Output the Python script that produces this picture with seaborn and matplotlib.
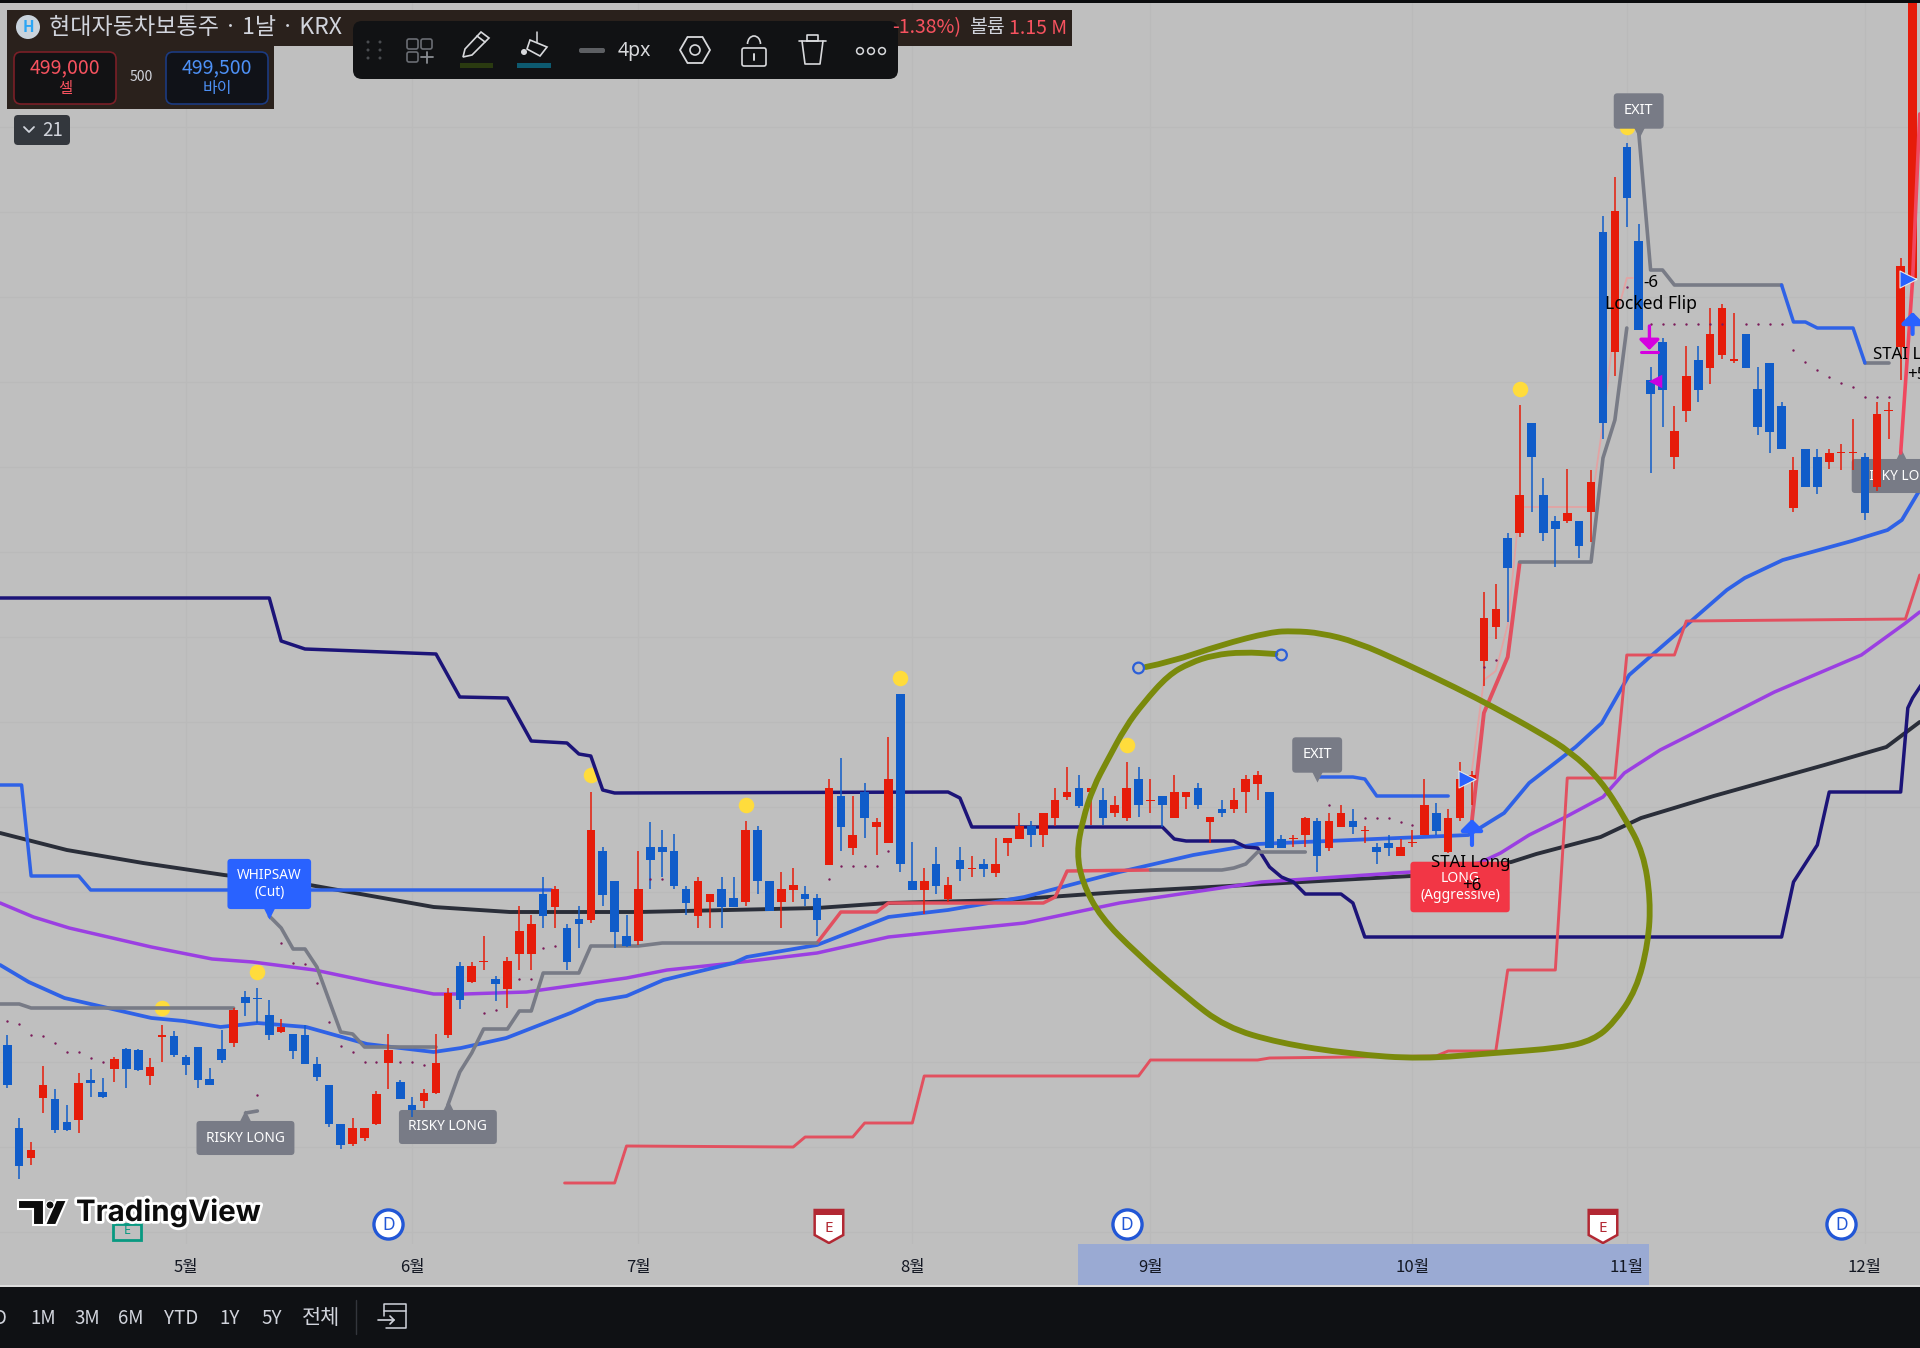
import numpy as np
import pandas as pd
import seaborn as sns
import matplotlib.pyplot as plt
import matplotlib.patheffects as pe
from matplotlib.path import Path
from matplotlib.patches import Rectangle, FancyBboxPatch, Circle, Polygon, RegularPolygon, Arc, PathPatch
from matplotlib.transforms import blended_transform_factory

# daily candles, bar 0 is the first one on screen (price scale is not visible, so chart units)
opens = [303,220,190,250,249,226,228,268,256,279,299,298,272,311,312,291,301,269,299,305,351,350,333,316,314,313,284,263,224,204,
         210,224,285,266,243,247,255,313,382,366,386,369,359,394,394,454,441,420,429,428,497,467,412,407,501,501,497,459,432,446,
         459,450,446,518,467,446,458,454,450,483,552,500,556,521,505,654,467,458,484,449,488,479,484,475,505,509,522,513,530,551,
         560,556,548,535,530,569,547,552,530,551,560,526,539,539,556,564,556,509,509,513,527,500,521,527,517,501,505,492,505,513,
         535,496,530,569,687,721,810,815,925,853,827,827,827,836,1116,996,1201,1107,968,1006,891,937,988,980,993,987,1014,959,985,942,
         840,899,891,886,895,895,891,861,937,1001,1070]
highs = [313,230,206,282,259,243,275,279,270,291,300,299,290,323,317,293,301,280,318,340,357,360,348,329,314,323,291,263,224,230,
         220,257,314,268,251,259,314,360,386,386,412,372,391,442,433,471,462,424,442,556,501,467,433,497,526,518,514,462,471,454,
         471,471,527,522,467,476,480,462,454,569,590,552,565,530,611,654,506,480,501,471,501,492,489,510,510,535,527,535,560,581,
         573,560,560,552,586,581,569,552,573,556,565,531,548,560,573,577,556,513,513,531,530,535,543,539,522,505,513,509,518,569,
         545,539,586,577,756,764,815,943,925,870,832,879,827,878,1132,1171,1205,1124,981,1010,942,1002,1002,1040,1044,1035,1014,981,985,946,
         891,899,899,899,904,929,895,946,946,1090,1350]
lows = [260,169,183,235,215,217,215,251,250,266,260,277,263,286,291,273,260,263,285,301,332,325,308,315,289,284,267,221,199,202,
        207,223,259,249,231,240,254,310,339,365,378,347,340,378,378,420,420,378,400,425,442,400,401,403,459,471,459,433,420,420,
        420,441,442,454,437,420,446,442,412,483,497,493,510,493,505,476,458,434,454,446,467,471,471,471,492,509,501,501,522,548,
        540,523,523,531,527,531,535,521,530,539,539,505,531,535,535,548,500,500,501,501,476,497,521,514,505,484,492,492,501,513,
        513,495,527,543,662,709,726,811,836,807,781,825,790,806,909,972,1121,1018,875,921,879,926,946,964,989,985,980,913,895,899,
        836,861,854,879,878,878,828,857,909,968,1070]
closes = [263,182,198,263,218,218,265,265,251,289,279,278,281,313,293,283,268,263,288,338,345,349,313,321,297,284,271,224,203,220,
          220,254,298,249,238,255,285,355,348,382,387,364,387,417,424,432,459,386,424,518,453,416,402,459,488,496,462,445,467,454,
          441,441,518,467,437,459,463,449,428,560,521,513,530,526,569,484,458,467,462,463,479,480,479,484,510,522,513,535,548,556,
          542,560,530,543,560,543,548,543,556,556,543,531,535,548,569,573,500,500,510,530,492,527,535,521,518,496,500,501,506,543,
          517,530,569,573,730,739,780,853,891,815,819,835,802,866,925,1137,1150,1018,954,958,917,972,958,1014,1040,989,980,921,916,899,
          878,861,861,895,896,896,835,934,938,1082,1350]

# indicator lines, each as bar positions and chart-unit levels
stop_upper_bars = [-1,22,23,25,36,38,42,44,47,48,49,50,51,79,80,81,97,98,99,103,104,105,106,107,108,109,112,113,114,149,150,152,153,159,159.6,160,161]
stop_upper_vals = [750,750,707,699,694,651,650,607,605,594,592,558,555,556,550,521,521,509,507,507,501,500,481,471,466,454,454,445,411,411,466,503,556,556,640,650,668]
slow_ma_bars = [-0.6,5,11.4,18.2,25.4,35.8,42.2,53.1,68,74,83.9,93.4,117.9,126.3,128.4,133.8,137.2,143.3,152.6,157.8,160.6]
slow_ma_vals = [515,498,485,473,463,441,436,436,440,445,448,456,472,486,494,511,530,552,583,601,626]
mid_ma_bars = [-0.6,2.2,5.2,12.1,17.2,20.6,25.8,31,35.8,38.4,43.6,47.8,52,55.4,61,68,74,85.4,93.4,105.3,117.9,123.6,125.4,127.8,130.7,134,135.8,138.8,141.3,148.4,155.7,159.3,160.6]
mid_ma_vals = [445,431,420,401,389,386,378,365,354,354,356,363,370,378,385,395,411,425,445,466,476,485,495,513,530,551,575,598,613,656,693,724,736]
fast_ma_bars = [-0.6,1.8,4.8,12.1,14.8,17.9,21,25.1,30.2,35.8,38.1,41.9,47.3,49.5,52,55.1,61,62.1,68,74,79,85.4,93.4,99.6,105,122.7,123.8,125.7,127.8,131.7,133.9,136.2,138.8,144.4,145.9,149.1,154.9,157.9,159.1,160.6]
fast_ma_vals = [383,366,350,330,327,321,325,321,304,296,300,310,335,347,352,368,385,391,403,431,438,451,476,493,504,513,521,535,565,601,625,673,700,758,770,788,807,818,828,858]

stop_low_bars = [46.8,51,52,66,67,71,72,76,77,95,96,105,106,120,121,125,126,130,131,135,136,140,141,159.4,160.6]
stop_low_vals = [165,165,202,201,211,211,225,225,272,272,288,288,290,292,297,297,378,378,570,570,693,693,727,729,773]
stop_mid_bars = [68,70,73,74,87,88,89,96]
stop_mid_vals = [405,436,436,445,445,451,477,478]
stop_fast_bars = [123,124,126,126.4,127]
stop_fast_vals = [528,635,691,728,785]
stop_last_bars = [159,160,160.6]
stop_last_vals = [895,1068,1234]
pale_bars = [123,124,125,126,127,133,134,135,136,136.5]
pale_vals = [578,668,677,723,841,841,925,1026,1070,1070]

grey_segments = [
    ([-0.6,1,2,19], [344,344,340,340]),
    ([22,23,24,25,26,28,29,30,36], [432,420,399,399,381,316,314,301,301]),
    ([20,21], [235,237]),
    ([37,38,39,40,42,43,44,45,48,49,53,55,68], [243,276,295,319,319,337,337,375,375,402,402,405,405]),
    ([96,102,103,104,105,109], [478,478,480,484,496,496]),
    ([127,133,134,135,136], [786,786,890,928,1020]),
    ([137,138,139,140,149], [1216,1078,1078,1063,1063]),
    ([156,158], [985,985]),
]
blue_segments = [
    ([-0.6,1.2,2,6,7,45.7], [563,563,472,472,458,458]),
    ([110,113,114,115,121], [571,571,569,552,552]),
    ([149,150,151,152,155,156], [1063,1026,1026,1020,1020,985]),
]

# hand drawn circle on the chart
circle_bars = [95.6,97.7,101.9,106.1,108,110.3,113.3,117.3,121.7,124.8,128.6,131.3,133.8,135.8,137.4,138,137.8,136.8,134.9,133.2,
               130.5,124.8,118.7,112.8,106.8,102.3,99,94.8,91.8,90.3,89.8,90.3,91.2,92.4,93.9,95.4,97.5,99.3,101.3,103.8,106.5]
circle_vals = [681,686,703,716,717,715,706,685,660,641,616,596,568,531,495,448,405,358,325,308,
               300,295,289,294,305,321,351,395,431,465,495,528,561,588,621,645,673,685,693,696,694]

dot_bars = [0,1,2,3,4,5,6,7,8,21,23,24,25,26,27,28,29,30,31,33,34,35,40,41,43,44,45,46,54,55,69,70,71,72,73,74,111,114,115,116,117,118,124,125,136,138,139,140,141,142,143,144,146,147,148,149,150,151,152,153,154,155,156,157,158]
dot_vals = [327,324,313,312,305,296,296,290,286,253,405,385,384,365,326,302,296,286,286,286,286,283,335,338,369,369,400,402,469,469,469,482,482,482,482,497,543,530,530,530,526,523,681,688,1061,1024,1024,1024,1024,1024,1024,1024,1024,1024,1024,1024,998,986,978,971,965,961,951,951,951]
sun_bars = [13,21,49,62,75,94,127,136]
sun_vals = [340,376,573,543,670,603,959,1221]

month_ticks = [15,34,53,76,96,118,136,156]
month_labels = ["5월","6월","7월","8월","9월","10월","11월","12월"]
range_buttons = ["D","1M","3M","6M","YTD","1Y","5Y","전체"]

BG = "#bfbfbf"
UP = "#e61c0a"
DOWN = "#105cc9"
NAVY = "#1c1478"
GREY = "#787b86"
LINE_BLUE = "#2f62e6"
SALMON = "#e2505f"
LABEL_FONT = ["Noto Sans", "DejaVu Sans"]

sns.set_theme(style="white")
plt.rcParams["font.family"] = ["Noto Sans CJK KR", "DejaVu Sans"]

fig = plt.figure(figsize=(19.2, 13.48), dpi=100, facecolor=BG)
ax = fig.add_axes([0, 104 / 1348, 1, 1241 / 1348], facecolor=BG)


def draw_line(bars, vals, color, lw=2.3, z=3):
    sns.lineplot(x=bars, y=vals, ax=ax, color=color, linewidth=lw, estimator=None, sort=False,
                 legend=False, zorder=z, solid_joinstyle="round", solid_capstyle="round")


def tag(bar, level, text, color, tip=None, marker="v", size=9.8):
    ax.text(bar, level, text, color="white", fontsize=size, family=LABEL_FONT, ha="center", va="center",
            linespacing=1.1, zorder=4,
            bbox=dict(boxstyle="round,pad=0.7,rounding_size=0.25", fc=color, ec="none"))
    if tip is not None:
        ax.scatter([bar], [tip], marker=marker, s=170, color=color, linewidths=0, zorder=4)


# lines under the candles
draw_line(slow_ma_bars, slow_ma_vals, "#2a2e39", 2.8)
draw_line(mid_ma_bars, mid_ma_vals, "#9b3fe2", 2.5)
draw_line(fast_ma_bars, fast_ma_vals, LINE_BLUE, 2.7)
draw_line(stop_upper_bars, stop_upper_vals, NAVY, 2.5)
draw_line(stop_low_bars, stop_low_vals, SALMON, 2.1)
draw_line(stop_mid_bars, stop_mid_vals, SALMON, 2.5)
draw_line(stop_fast_bars, stop_fast_vals, SALMON, 2.8)
draw_line(stop_last_bars, stop_last_vals, "#f0485f", 2.6, z=6)
draw_line(pale_bars, pale_vals, "#e3a3a3", 1.3)
for b, v in grey_segments:
    draw_line(b, v, GREY, 2.6)
for b, v in blue_segments:
    draw_line(b, v, LINE_BLUE, 2.5)

candles = pd.DataFrame({"bar": np.arange(len(opens)), "open": opens, "high": highs, "low": lows, "close": closes})
candles["color"] = np.where(candles["close"] >= candles["open"], UP, DOWN)
ax.vlines(candles["bar"], candles["low"], candles["high"], colors=candles["color"], linewidth=1.1, zorder=5)
body = (candles["close"] - candles["open"]).abs().clip(lower=1.5)
ax.bar(candles["bar"], body, bottom=candles[["open", "close"]].min(axis=1), width=0.72,
       color=candles["color"], linewidth=0, zorder=5)

sns.scatterplot(x=dot_bars, y=dot_vals, ax=ax, color="#7b1b5a", s=3, linewidth=0, zorder=6, legend=False)
sns.scatterplot(x=sun_bars, y=sun_vals, ax=ax, color="#ffdc3c", s=125, linewidth=0, zorder=2.5, legend=False)

tag(22, 464, "WHIPSAW\n(Cut)", "#2962ff", 438)
tag(20, 210, "RISKY LONG", GREY, 229, "^")
tag(37, 221, "RISKY LONG", GREY, 239, "^")
tag(110, 593, "EXIT", GREY, 575, size=10.5)
tag(137, 1237, "EXIT", GREY, 1219, size=10.5)
tag(122, 461, "LONG\n(Aggressive)", "#f23645", size=10)
tag(159, 872, "RISKY LONG", GREY, 890, "^")

# signals
ax.scatter([122.6, 159.6], [569, 1069], marker=">", s=150, color="#2962ff", edgecolors="#e8e8e8", linewidths=0.8, zorder=7)
for bar, lo, hi in [(123, 503, 529), (160, 1014, 1036)]:
    ax.annotate("", xy=(bar, hi), xytext=(bar, lo), zorder=7,
                arrowprops=dict(arrowstyle="-|>,head_width=0.55,head_length=0.55", lw=3, color="#2962ff",
                                shrinkA=0, shrinkB=0, mutation_scale=12))
ax.annotate("", xy=(137.9, 998), xytext=(137.9, 1022), zorder=7,
            arrowprops=dict(arrowstyle="-|>,head_width=0.55,head_length=0.55", lw=2.4, color="#d500e0",
                            shrinkA=0, shrinkB=0, mutation_scale=11))
ax.plot([137.2, 138.6], [996, 996], color="#d500e0", lw=2.2, zorder=7)
ax.scatter([138.4], [967], marker="<", s=95, color="#c800e0", linewidths=0, zorder=7)
signal_text = [(122.9, 485, "STAI Long", 12.2), (123, 462, "+6", 12.2), (138, 1065, "-6", 12.2), (138, 1044, "Locked Flip", 12.6)]
for bar, level, text, size in signal_text:
    ax.text(bar, level, text, fontsize=size, color="black", ha="center", va="center", family=LABEL_FONT, zorder=8)
ax.text(156.7, 993, "STAI Long", fontsize=12.2, color="black", ha="left", va="center", family=LABEL_FONT, zorder=8)
ax.text(159.5, 973, "+5", fontsize=12.2, color="black", ha="left", va="center", family=LABEL_FONT, zorder=8)

# the drawing on top of everything, with the read points as spline controls
pts = np.column_stack([circle_bars, circle_vals])
verts, codes = [pts[0]], [Path.MOVETO]
for i in range(1, len(pts) - 1):
    verts += [pts[i], (pts[i] + pts[i + 1]) / 2]
    codes += [Path.CURVE3, Path.CURVE3]
verts.append(pts[-1])
codes.append(Path.LINETO)
ax.add_patch(PathPatch(Path(verts, codes), fc="none", ec="#7a8a0c", lw=4.2, capstyle="round", joinstyle="round", zorder=9))
ax.scatter([95, 107], [680, 693], s=60, facecolors="none", edgecolors="#2b5fd9", linewidths=1.6, zorder=9)

# dividends and earnings flags
ax.scatter([32, 94, 154], [124, 124, 124], s=440, facecolors="white", edgecolors="#2257d6", linewidths=2.4, zorder=6, clip_on=False)
for bar in [32, 94, 154]:
    ax.text(bar, 123, "D", color="#2257d6", fontsize=12.5, weight="bold", ha="center", va="center", zorder=7, family=LABEL_FONT)
for bar in [69, 134]:
    ax.add_patch(Polygon([(bar - 1.2, 138), (bar + 1.2, 138), (bar + 1.2, 113), (bar, 105), (bar - 1.2, 113)],
                         closed=True, fc="white", ec="#b22833", lw=1.8, zorder=6))
    ax.add_patch(Rectangle((bar - 1.2, 133), 2.4, 5, fc="#b22833", ec="none", zorder=6))
    ax.text(bar, 120, "E", color="#b22833", fontsize=11, weight="bold", ha="center", va="center", zorder=7, family=LABEL_FONT)
ax.add_patch(Rectangle((8.9, 108), 2.3, 16, fc=BG, ec="#089981", lw=2, zorder=2))
ax.text(10.05, 118, "E", color="#089981", fontsize=9, ha="center", va="center", zorder=2, family=LABEL_FONT)

# selected range on the time axis
ax.add_patch(Rectangle((89.9, -41 / 1241), 48, 41 / 1241, fc="#9aaad3", ec="none", clip_on=False,
                       transform=blended_transform_factory(ax.transData, ax.transAxes), zorder=0.2))

ax.set_xlim(-7.3 / 11.908, (1920 - 7.3) / 11.908)
ax.set_ylim(104, 1345)
ax.set_xticks(month_ticks)
ax.set_xticklabels(month_labels, fontsize=12, color="#131722")
ax.set_yticks(np.arange(116, 1300, 85))
ax.tick_params(axis="x", length=0, pad=11)
ax.tick_params(axis="y", length=0, labelleft=False)
ax.grid(True, color="#bababa", linewidth=0.8)
ax.set_axisbelow(True)
for s in ax.spines.values():
    s.set_visible(False)

# app chrome, drawn in screen pixels
ui = fig.add_axes([0, 0, 1, 1], zorder=10)
ui.set_xlim(0, 1920)
ui.set_ylim(1348, 0)
ui.axis("off")


def box(x0, y0, x1, y1, fc, ec="none", r=4, lw=1.2):
    ui.add_patch(FancyBboxPatch((x0 + r, y0 + r), x1 - x0 - 2 * r, y1 - y0 - 2 * r,
                                boxstyle=f"round,pad={r},rounding_size={r}", fc=fc, ec=ec, lw=lw))


ui.add_patch(Rectangle((0, 0), 1920, 3, fc="#0b0c0e", ec="none"))
ui.add_patch(Rectangle((7, 10), 1065, 36, fc="#2a211c", ec="none"))
ui.add_patch(Rectangle((7, 46), 267, 63, fc="#2a211c", ec="none"))
ui.add_patch(Circle((28, 27), 12, fc="#c9d3dc", ec="none"))
ui.text(28, 27, "H", color="#2aa5f5", fontsize=11, ha="center", va="center", weight="bold")
ui.text(49, 28, "현대자동차보통주 · 1날 · KRX", color="#d1d4dc", fontsize=16.6, ha="left", va="center")
ui.text(961, 28, "-1.38%)", color="#f7525f", fontsize=14, ha="right", va="center")
ui.text(969, 28, "볼륨", color="#d1d4dc", fontsize=14, ha="left", va="center")
ui.text(1009, 28, "1.15 M", color="#f7525f", fontsize=14, ha="left", va="center")

box(14, 52, 116, 104, "#121214", "#7a1f27", r=7)
box(166, 52, 268, 104, "#101218", "#1b3a80", r=7)
ui.text(65, 68, "499,000", color="#f7525f", fontsize=14, ha="center", va="center")
ui.text(65, 88, "셀", color="#f7525f", fontsize=11, ha="center", va="center")
ui.text(217, 68, "499,500", color="#4d90f5", fontsize=14, ha="center", va="center")
ui.text(217, 88, "바이", color="#4d90f5", fontsize=11.5, ha="center", va="center")
ui.text(141, 77, "500", color="#d1d4dc", fontsize=10, ha="center", va="center")

box(14, 115, 70, 145, "#33373d", r=4)
ui.plot([24, 29, 34], [127, 132, 127], color="#d1d4dc", lw=1.3)
ui.text(53, 130, "21", color="#d1d4dc", fontsize=13.5, ha="center", va="center")

# drawing toolbar
ICON = "#d8d9dc"
box(353, 21, 898, 79, "#111214", r=9)
for dx in [368, 380]:
    for dy in [42, 50, 58]:
        ui.add_patch(Circle((dx, dy), 1.5, fc="#4a4c50", ec="none"))
for x0, y0 in [(407, 39), (421, 39), (407, 52)]:
    box(x0, y0, x0 + 11, y0 + 10, "none", "#6a6d73", r=2)
ui.plot([421, 433], [57, 57], color="#8a8d93", lw=1.3)
ui.plot([427, 427], [52, 63], color="#8a8d93", lw=1.3)
ui.add_patch(Polygon([(463, 57), (465, 49), (481, 32), (489, 38), (472, 55)], closed=True, fc="none", ec=ICON, lw=1.2))
ui.plot([477, 485], [36, 42], color=ICON, lw=1.2)
ui.add_patch(Rectangle((460, 63), 33, 5, fc="#2a3a10", ec="none"))
ui.add_patch(Polygon([(530, 40), (547, 47), (540, 56), (527, 49)], closed=True, fc="none", ec=ICON, lw=1.2))
ui.plot([537, 537], [32, 42], color=ICON, lw=1.1)
ui.add_patch(Circle((524, 52), 3, fc=ICON, ec="none"))
ui.add_patch(Rectangle((517, 63), 34, 5, fc="#0d5a70", ec="none"))
box(579, 48, 605, 53, "#5d5f63", r=2)
ui.text(634, 51, "4px", color=ICON, fontsize=14, ha="center", va="center", family=LABEL_FONT)
ui.add_patch(RegularPolygon((695, 50), 6, radius=15, orientation=np.pi / 6, fc="none", ec=ICON, lw=1.3))
ui.add_patch(Circle((695, 50), 5, fc="none", ec=ICON, lw=1.2))
box(742, 48, 766, 66, "none", ICON, r=2)
ui.add_patch(Arc((754, 44), 13, 16, theta1=180, theta2=360, ec=ICON, lw=1.2))
ui.plot([754, 754], [54, 60], color=ICON, lw=1.4)
ui.plot([799, 826], [41, 41], color=ICON, lw=1.2)
ui.plot([807, 818, 818, 807, 807], [41, 41, 35, 35, 41], color=ICON, lw=1.2)
ui.plot([802, 805, 820, 823], [41, 64, 64, 41], color=ICON, lw=1.2)
for cx in [860, 871, 882]:
    ui.add_patch(Circle((cx, 51), 3.4, fc="none", ec=ICON, lw=1.1))

# bottom bar
ui.add_patch(Rectangle((0, 1285), 1920, 2, fc="#dcdcdc", ec="none"))
ui.add_patch(Rectangle((0, 1287), 1920, 61, fc="#0f1114", ec="none"))
range_x = [0, 43, 87, 131, 181, 230, 272, 321]
for x, lab in zip(range_x, range_buttons):
    ui.text(x, 1318, lab, color="#d1d4dc", fontsize=15 if lab == "전체" else 13.5, ha="center", va="center")
ui.plot([356, 356], [1300, 1334], color="#33363c", lw=1)
ui.plot([384, 384, 406, 406, 386], [1316, 1304, 1304, 1328, 1328], color="#d1d4dc", lw=1.1)
ui.plot([384, 406], [1311, 1311], color="#d1d4dc", lw=1.1)
ui.plot([378, 394], [1320, 1320], color="#d1d4dc", lw=1.2)
ui.plot([390, 394, 390], [1316, 1320, 1324], color="#d1d4dc", lw=1.2)

# watermark
halo = [pe.withStroke(linewidth=4, foreground="white")]
ui.text(76, 1213, "TradingView", color="#0c0c0c", fontsize=21.2, weight="bold", family=["Inter", "DejaVu Sans"],
        ha="left", va="center", path_effects=halo)
for pts in [[(18, 1200), (44, 1200), (44, 1225), (33, 1225), (33, 1209), (18, 1209)],
            [(56, 1200), (67, 1200), (56, 1225), (45, 1225)]]:
    ui.add_patch(Polygon(pts, closed=True, fc="#0c0c0c", ec="white", lw=1.5))
ui.add_patch(Circle((50, 1205), 4, fc="#0c0c0c", ec="white", lw=0.8))

fig.savefig("out.png", dpi=100, facecolor=BG)
